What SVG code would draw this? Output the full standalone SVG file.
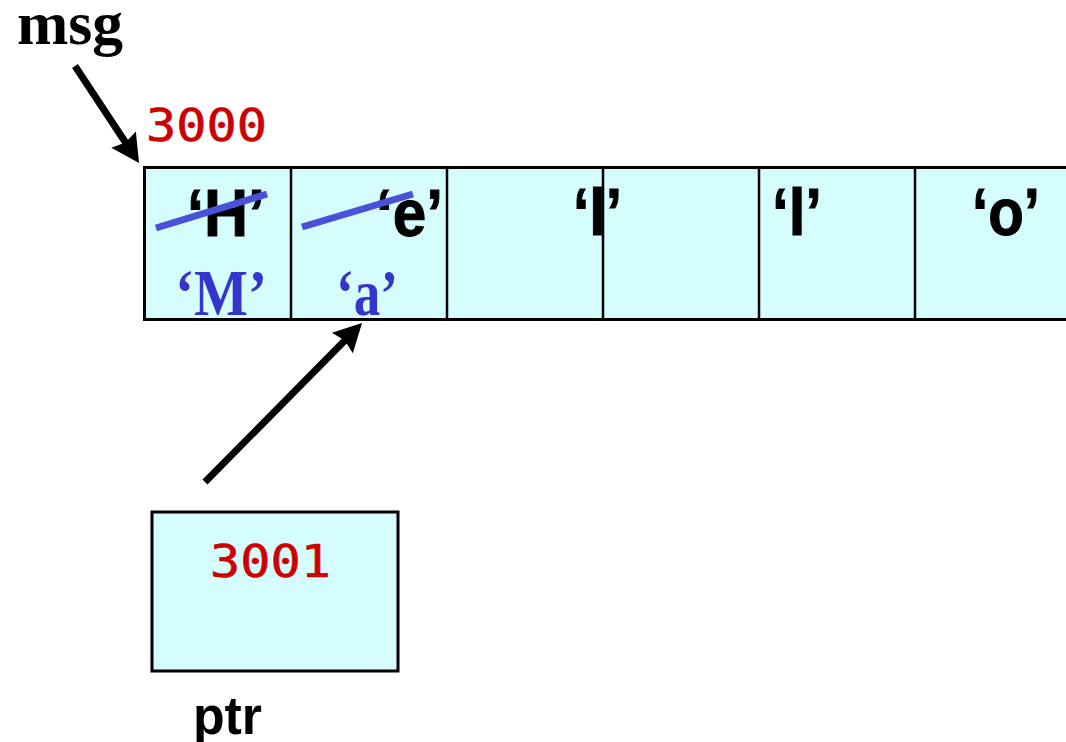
<svg xmlns="http://www.w3.org/2000/svg" width="1066" height="742" viewBox="0 0 1066 742">
<style>
.cell{fill:#d5fdfd;stroke:#000;stroke-width:3}
.div{stroke:#000;stroke-width:2.5}
.ch{font-family:"Liberation Sans",Arial,sans-serif;font-weight:bold;font-size:66px;fill:#000;stroke:#000;stroke-width:1}
.nw{font-family:"Liberation Serif","Times New Roman",serif;font-weight:bold;font-size:66px;fill:#3535cc}
.addr{font-family:"DejaVu Sans Mono",monospace;font-size:44px;fill:#cc0000;stroke:#cc0000;stroke-width:0.6}
.strike{stroke:#4a50d8;stroke-width:7;stroke-linecap:butt}
.arr{stroke:#000;stroke-width:7;fill:none}
</style>
<defs>
<marker id="ah" markerWidth="4" markerHeight="4.2" refX="2" refY="2.1" orient="auto" markerUnits="strokeWidth" overflow="visible">
<path d="M0,0 L4,2.1 L0,4.2 L0.5,2.1 Z" fill="#000"/>
</marker>
</defs>
<rect width="1066" height="742" fill="#fff"/>
<g id="msg-label">
<text x="17" y="44" font-family="'Liberation Serif','Times New Roman',serif" font-weight="bold" font-size="62" textLength="106" lengthAdjust="spacingAndGlyphs">msg</text>
<text class="addr" x="146" y="141" textLength="121" lengthAdjust="spacingAndGlyphs">3000</text>
</g>
<g id="array">
<rect class="cell" x="144.5" y="167.5" width="930" height="152"/>
<line class="div" x1="291" y1="168" x2="291" y2="319"/>
<line class="div" x1="447" y1="168" x2="447" y2="319"/>
<line class="div" x1="603" y1="168" x2="603" y2="319"/>
<line class="div" x1="759" y1="168" x2="759" y2="319"/>
<line class="div" x1="915" y1="168" x2="915" y2="319"/>
<text class="ch" x="187" y="236" textLength="78" lengthAdjust="spacingAndGlyphs">‘H’</text>
<text class="ch" x="376" y="236" textLength="67" lengthAdjust="spacingAndGlyphs">‘e’</text>
<text class="ch" x="573" y="235" textLength="49" lengthAdjust="spacingAndGlyphs">‘l’</text>
<text class="ch" x="772" y="235" textLength="50" lengthAdjust="spacingAndGlyphs">‘l’</text>
<text class="ch" x="972" y="235" textLength="68" lengthAdjust="spacingAndGlyphs">‘o’</text>
<line class="strike" x1="156" y1="228" x2="267" y2="194"/>
<line class="strike" x1="302" y1="227" x2="413" y2="194"/>
<text class="nw" x="175" y="315" textLength="92" lengthAdjust="spacingAndGlyphs">‘M’</text>
<text class="nw" x="336" y="315" textLength="62" lengthAdjust="spacingAndGlyphs">‘a’</text>
</g>
<g id="ptr">
<rect class="cell" x="152" y="512" width="246" height="159"/>
<text class="addr" x="210" y="577" textLength="121" lengthAdjust="spacingAndGlyphs">3001</text>
<text x="193" y="734" font-family="'Liberation Sans',Arial,sans-serif" font-weight="bold" font-size="54" textLength="69" lengthAdjust="spacingAndGlyphs">ptr</text>
</g>
<g id="connectors">
<line class="arr" x1="75" y1="66" x2="131.3" y2="151.3" marker-end="url(#ah)"/>
<line class="arr" x1="205" y1="482" x2="352.2" y2="333" marker-end="url(#ah)"/>
</g>
</svg>
